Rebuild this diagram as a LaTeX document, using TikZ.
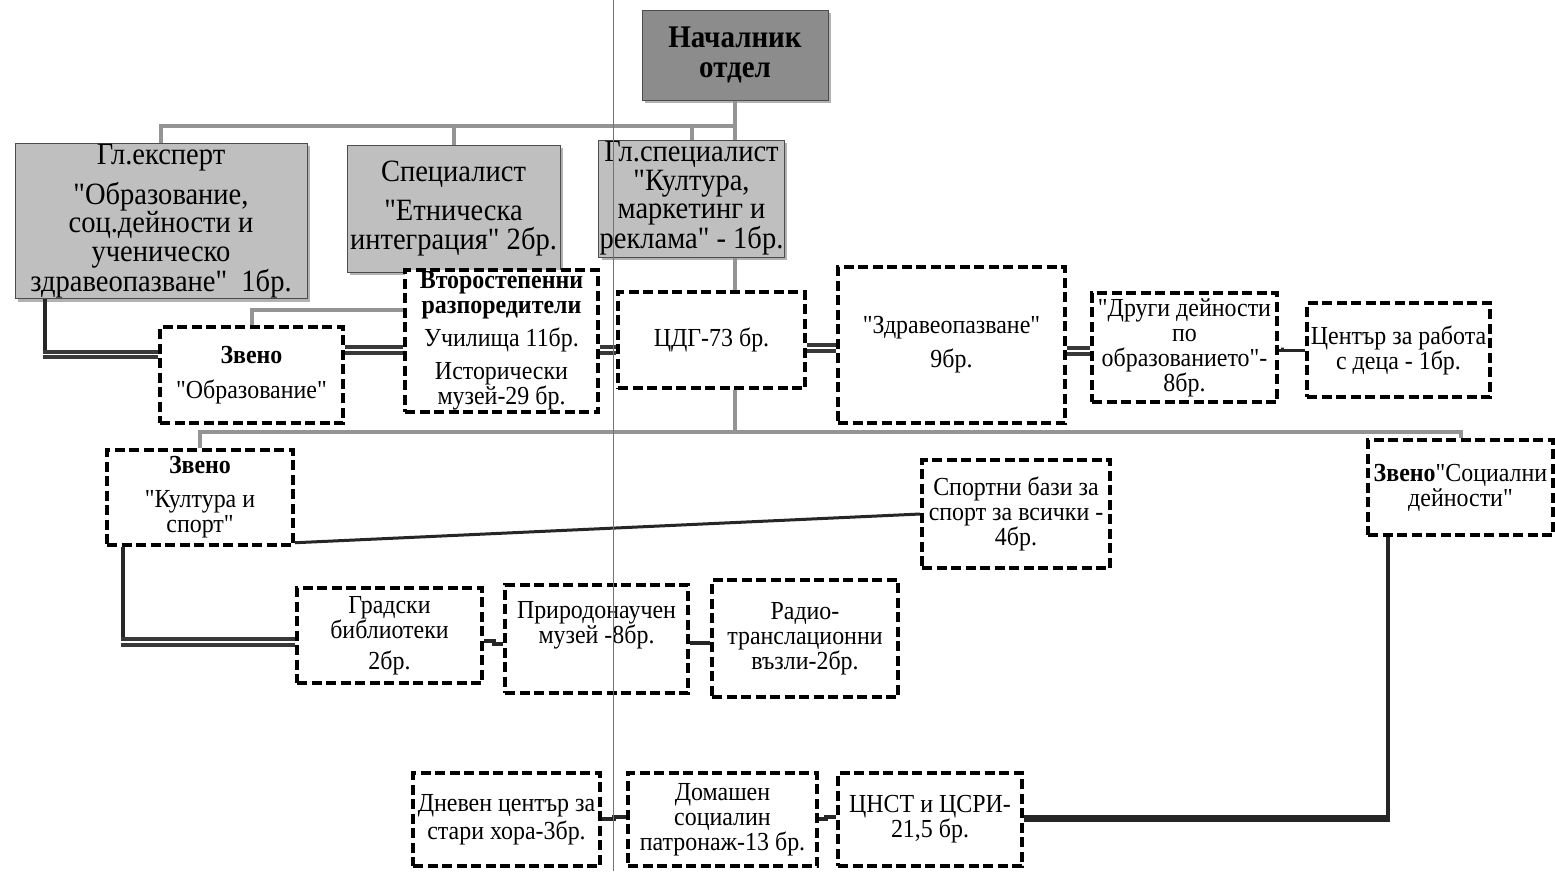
\documentclass[tikz,border=0pt]{standalone}
\usepackage{fontspec}
\setmainfont{Liberation Serif}[Ligatures=TeXOff, FakeStretch=0.92]
\usetikzlibrary{calc,shadows}
\begin{document}
\begin{tikzpicture}[x=1pt,y=-1pt,
  gbox/.style={draw=black!70, line width=1pt, fill=black!25, align=center, inner sep=1pt,
    drop shadow={shadow xshift=3pt,shadow yshift=-3pt,fill=black!50,opacity=0.6},
    font=\fontsize{31}{28.5}\selectfont},
  nbox/.style={gbox, fill=black!45, font=\fontsize{31.5}{30}\selectfont\bfseries},
  dbox/.style={draw=black, line width=3.5pt, dash pattern=on 10pt off 4.5pt, fill=white,
    align=center, inner sep=1pt, font=\fontsize{26}{25}\selectfont},
  gline/.style={draw=black!42, line width=4pt},
  blk/.style={draw=black!85, line width=4pt},
  blkthin/.style={draw=black!85, line width=3pt},
  dbl/.style={draw=black!78, line width=4pt, double=white, double distance=1.5pt},
  artline/.style={draw=black!55, line width=0.8pt}
]
\useasboundingbox[fill=white] (0,0) rectangle (1555,871);

% gray boxes
\node[nbox, minimum width=186pt, minimum height=90pt] (nach) at (735,55) {Началник\\ отдел};
\node[gbox, minimum width=292pt, minimum height=152pt] (glexp) at (161,221)
  {Гл.експерт\\[10pt] "Образование,\\ соц.дейности и\\ ученическо\\ здравеопазване"~~1бр.};
\node[gbox, minimum width=213pt, minimum height=127pt] (spec) at (453.5,208.5)
  {Специалист\\[11pt] "Етническа\\ интеграция" 2бр.};
\node[gbox, minimum width=183pt, minimum height=117pt] (glspec) at (691.5,198.5)
  {Гл.специалист\\ "Култура,\\ маркетинг и\\ реклама" - 1бр.};

% dashed boxes
\node[dbox, minimum width=193pt, minimum height=142pt] (vtor) at (501.5,341)
  {\textbf{Второстепенни}\\ \textbf{разпоредители}\\[8pt] Училища 11бр.\\[8pt] Исторически\\ музей-29 бр.};
\node[dbox, minimum width=183pt, minimum height=96pt] (zobr) at (251.5,375)
  {\textbf{Звено}\\[10pt] "Образование"};
\node[dbox, minimum width=187pt, minimum height=96pt] (cdg) at (711.5,340) {ЦДГ-73 бр.};
\node[dbox, minimum width=227pt, minimum height=156pt] (zdr) at (951.5,345)
  {"Здравеопазване"\\[9pt] 9бр.};
\node[dbox, minimum width=185pt, minimum height=109pt] (drugi) at (1184.5,347.5)
  {"Други дейности\\ по\\ образованието"-\\ 8бр.};
\node[dbox, minimum width=183pt, minimum height=94pt] (cwork) at (1398.5,350)
  {Център за работа\\ с деца - 1бр.};
\node[dbox, minimum width=186pt, minimum height=95pt] (zkult) at (200,497.5)
  {\textbf{Звено}\\[9pt] "Култура и\\ спорт"};
\node[dbox, minimum width=188pt, minimum height=108pt] (sport) at (1016,514)
  {Спортни бази за\\ спорт за всички -\\ 4бр.};
\node[dbox, minimum width=185pt, minimum height=95pt] (zsoc) at (1460.5,487.5)
  {\textbf{Звено}"Социални\\ дейности"};
\node[dbox, minimum width=185pt, minimum height=95pt] (grad) at (389.5,635.5)
  {Градски\\ библиотеки\\[6pt] 2бр.};
\node[dbox, minimum width=183pt, minimum height=108pt] (prir) at (596.5,639)
  {Природонаучен\\ музей -8бр.\\[8pt]\mbox{}};
\node[dbox, minimum width=186pt, minimum height=117pt] (radio) at (805,638.5)
  {Радио-\\ транслационни\\ възли-2бр.};
\node[dbox, minimum width=187pt, minimum height=93pt] (dnev) at (506.5,819.5)
  {Дневен център за\\[3pt] стари хора-3бр.};
\node[dbox, minimum width=189pt, minimum height=93pt] (dom) at (722.5,819.5)
  {Домашен\\ социалин\\ патронаж-13 бр.};
\node[dbox, minimum width=184pt, minimum height=93pt] (cnst) at (930,819.5)
  {ЦНСТ и ЦСРИ-\\ 21,5 бр.};

% top bus
\coordinate (bus1) at ($(nach.south)+(0,25)$);
\draw[gline] (nach.south) -- (nach.south |- glspec.north);
\draw[gline] (bus1) -| (glexp.north);
\draw[gline] (spec.north) -- (spec.north |- bus1);
\draw[gline] (glspec.north) -- (glspec.north |- bus1);
\draw[gline] (nach.south |- glspec.south) -- (nach.south |- cdg.north);

% Гл.експерт -> Звено Образование
\coordinate (a1) at ($(glexp.south west)+(30,0)$);
\draw[blk] (a1) -- ++(0,55) coordinate (a2);
\draw[dbl] ($(a2)+(-2,0)$) -- (zobr.west |- a2);
\draw[gline] (zobr.north) |- ($(vtor.west)+(0,-31)$);

% horizontal chain
\coordinate (h1) at ($(zobr.east)+(0,-25)$);
\draw[dbl] (h1) -- (vtor.west |- h1);
\coordinate (h2) at ($(vtor.east)+(0,9)$);
\draw[dbl] (h2) -- (cdg.west |- h2);
\coordinate (h3) at ($(cdg.east)+(0,8)$);
\draw[dbl] (h3) -- (zdr.west |- h3);
\coordinate (h4) at ($(zdr.east)+(0,6)$);
\draw[dbl] (h4) -- (drugi.west |- h4);
\draw[blkthin] ($(drugi.east)+(0,3)$) -- ++(4,0) -- ++(0,-3) |- (cwork.west);

% second bus
\coordinate (bus2) at ($(nach.south |- cdg.south)+(0,42)$);
\draw[gline] (nach.south |- cdg.south) -- (bus2);
\draw[gline] (zkult.north) |- (bus2) -| (zsoc.north);

% Звено Култура links
\draw[blkthin] ($(zkult.south east)+(0,-4)$) -- (sport.west);
\coordinate (k1) at ($(zkult.south west)+(18,0)$);
\draw[blk] (k1) -- ++(0,95) coordinate (k2);
\draw[dbl] ($(k2)+(-2,0)$) -- (grad.west |- k2);
\draw[blk] ($(grad.east)+(0,5)$) -- ++(10,0) |- ($(prir.west)+(0,5)$);
\draw[blk] ($(prir.east)+(0,4)$) -- ++(10,0) |- ($(radio.west)+(0,4)$);

% Звено Социални links
\coordinate (s1) at ($(zsoc.south west)+(22,0)$);
\draw[blk] (s1) -- ++(0,282) coordinate (s2);
\draw[draw=black!85, line width=7pt] ($(s2)+(2,0)$) -- (cnst.east |- s2);
\draw[blk] ($(cnst.west)+(0,-3)$) -- ++(-10,0) |- ($(dom.east)+(0,-1)$);
\draw[blk] ($(dom.west)+(0,-3)$) -- ++(-12,0) |- ($(dnev.east)+(0,-1)$);

% scan fold line
\draw[artline] (613,0) -- (613,871);
\end{tikzpicture}
\end{document}
